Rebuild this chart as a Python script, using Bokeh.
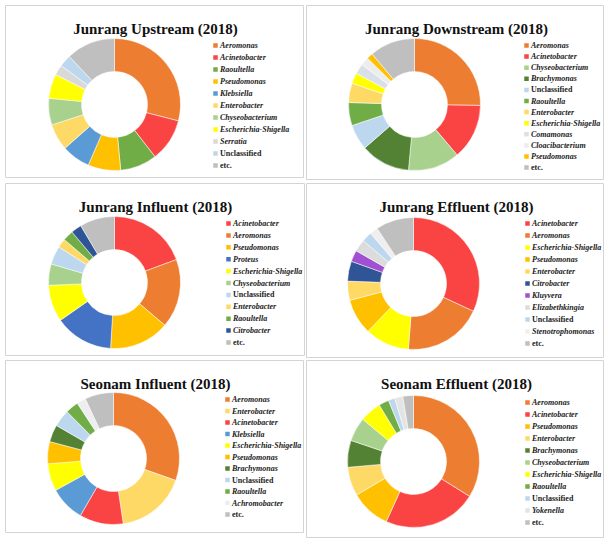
import numpy as np
from bokeh.plotting import figure
from bokeh.models import ColumnDataSource, Range1d
from bokeh.embed import file_html
from bokeh.resources import INLINE
from bokeh.core.properties import value, field

W, H = 613, 544

# ---------------- data ----------------
titles = ["Junrang Upstream (2018)", "Junrang Downstream (2018)",
          "Junrang Influent (2018)", "Junrang Effluent (2018)",
          "Seonam Influent (2018)", "Seonam Effluent (2018)"]

ju_labels = ["Aeromonas", "Acinetobacter", "Raoultella", "Pseudomonas", "Klebsiella",
             "Enterobacter", "Chyseobacterium", "Escherichia-Shigella", "Serratia",
             "Unclassified", "etc."]
ju_values = [29, 10.5, 9, 8, 7, 6.5, 6.5, 6, 2.5, 3, 12]

jd_labels = ["Aeromonas", "Acinetobacter", "Chyseobacterium", "Brachymonas", "Unclassified",
             "Raoultella", "Enterobacter", "Escherichia-Shigella", "Comamonas",
             "Cloacibacterium", "Pseudomonas", "etc."]
jd_values = [25, 13.5, 12.5, 12, 6.2, 5.6, 4.7, 2.6, 2.5, 2, 1.5, 11]

ji_labels = ["Acinetobacter", "Aeromonas", "Pseudomonas", "Proteus", "Escherichia-Shigella",
             "Chyseobacterium", "Unclassified", "Enterobacter", "Raoultella", "Citrobacter", "etc."]
ji_values = [19.3, 16.8, 14.7, 14.3, 9, 5.2, 4.5, 2.2, 2.6, 2.6, 8.5]

je_labels = ["Acinetobacter", "Aeromonas", "Escherichia-Shigella", "Pseudomonas", "Enterobacter",
             "Citrobacter", "Kluyvera", "Elizabethkingia", "Unclassified", "Stenotrophomonas", "etc."]
je_values = [32, 19.4, 10.9, 8.8, 4.7, 4.9, 2.8, 3, 2.5, 2, 9.3]

si_labels = ["Aeromonas", "Enterobacter", "Acinetobacter", "Klebsiella", "Escherichia-Shigella",
             "Pseudomonas", "Brachymonas", "Unclassified", "Raoultella", "Achromobacter", "etc."]
si_values = [30.3, 17.2, 10.7, 8.6, 6.7, 5.4, 4.2, 4.2, 3.2, 2.2, 7]

se_labels = ["Aeromonas", "Acinetobacter", "Pseudomonas", "Enterobacter", "Brachymonas",
             "Chyseobacterium", "Escherichia-Shigella", "Raoultella", "Unclassified",
             "Yokenella", "etc."]
se_values = [34, 23, 9.8, 7.1, 6.6, 5.9, 5.3, 2.5, 1.6, 2, 2.6]

color_map = {
    "Aeromonas": "#ED7D31", "Acinetobacter": "#FA4444", "Raoultella": "#70AD47",
    "Pseudomonas": "#FFC000", "Klebsiella": "#5B9BD5", "Enterobacter": "#FFD966",
    "Chyseobacterium": "#A9D18E", "Escherichia-Shigella": "#FFFF00",
    "Serratia": "#D9D9D9", "Unclassified": "#BDD7EE", "etc.": "#BFBFBF",
    "Brachymonas": "#548235", "Comamonas": "#DAE0E8", "Cloacibacterium": "#EDEDED",
    "Proteus": "#4472C4", "Citrobacter": "#2F5597", "Kluyvera": "#A050D0",
    "Elizabethkingia": "#DCDCDC", "Stenotrophomonas": "#EFEFEF",
    "Achromobacter": "#EEEEEE", "Yokenella": "#E4E4E4",
}
upright = {"Unclassified", "etc."}

panels_data = [(ju_labels, ju_values), (jd_labels, jd_values),
               (ji_labels, ji_values), (je_labels, je_values),
               (si_labels, si_values), (se_labels, se_values)]

# ---------------- layout (image px: left, top, width, height) ----------------
boxes = [(5, 5, 298, 172), (306, 5, 297, 174),
         (5, 183, 299, 172), (306, 183, 297, 174),
         (5, 360, 298, 172), (306, 360, 297, 177)]
centers = [(109, 99), (108, 99), (109, 99), (107, 100), (108, 98), (107, 101)]
legend_pos = [(210, 40, 12.0), (220, 40, 11.1), (223, 40, 11.9),
              (221, 40, 12.0), (222, 39, 11.5), (221, 42, 12.0)]
R_OUT, R_IN = 66, 33

p = figure(width=W, height=H, x_range=Range1d(0, W), y_range=Range1d(0, H),
           output_backend="svg", toolbar_location=None,
           x_axis_type=None, y_axis_type=None, min_border=0)
p.grid.visible = False
p.outline_line_color = None
p.background_fill_color = "white"
p.border_fill_color = "white"

SERIF = value("Liberation Serif")

for i, (labels, vals) in enumerate(panels_data):
    L, T, BW, BH = boxes[i]
    # panel frame
    p.quad(left=L, right=L + BW, top=H - T, bottom=H - (T + BH),
           fill_color="white", line_color="#D4D4D4", line_width=1)
    # title
    p.text(x=[L + 150], y=[H - (T + 23)], text=[titles[i]],
           text_font=SERIF, text_font_style="bold", text_font_size="15px",
           text_align="center", text_baseline="alphabetic", text_color="#111111")
    # donut
    v = np.array(vals, dtype=float)
    frac = v / v.sum()
    cum = np.concatenate([[0], np.cumsum(frac)])
    src = ColumnDataSource(dict(
        start=np.pi / 2 - 2 * np.pi * cum[:-1],
        end=np.pi / 2 - 2 * np.pi * cum[1:],
        color=[color_map[l] for l in labels]))
    cx, cy = L + centers[i][0], H - (T + centers[i][1])
    p.annular_wedge(x=cx, y=cy, inner_radius=R_IN, outer_radius=R_OUT,
                    start_angle="start", end_angle="end", direction="clock",
                    fill_color="color", line_color="white", line_width=0.5,
                    source=src)
    # legend
    lx, ly, step = legend_pos[i]
    ys = [H - (T + ly + k * step) for k in range(len(labels))]
    lsrc = ColumnDataSource(dict(
        x=[L + lx] * len(labels), tx=[L + lx + 4.5] * len(labels), y=ys,
        label=labels, color=[color_map[l] for l in labels],
        fstyle=["bold" if l in upright else "bold italic" for l in labels]))
    p.scatter(x="x", y="y", marker="square", size=4.5, fill_color="color",
              line_color=None, source=lsrc)
    p.text(x="tx", y="y", text="label", text_font=SERIF,
           text_font_style=field("fstyle"), text_font_size="8px",
           text_baseline="middle", text_align="left", text_color="#222222",
           source=lsrc)

open("out.html", "w").write(file_html(p, INLINE))
